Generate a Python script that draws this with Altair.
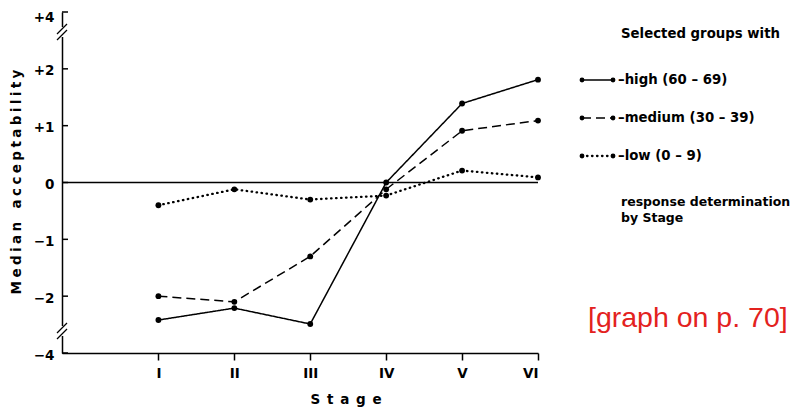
import altair as alt
import pandas as pd

# ---- data ----
stages = ["I", "II", "III", "IV", "V", "VI"]
high = [-2.42, -2.21, -2.49, 0.0, 1.39, 1.81]
medium = [-2.0, -2.1, -1.3, -0.12, 0.91, 1.09]
low = [-0.4, -0.12, -0.3, -0.23, 0.21, 0.09]
groups = ["high", "medium", "low"]
legend_labels = ["–high (60 – 69)", "–medium (30 – 39)", "–low (0 – 9)"]
y_ticks = [-3, -2, -1, 0, 1, 2, 3]
y_tick_labels = ["−4", "−2", "−1", "0", "+1", "+2", "+4"]
heading = "Selected groups with"
note_lines = ["response determination", "by Stage"]
x_title = "Stage"
y_title = "Median acceptability"
page_note = "[graph on p. 70]"

# ---- layout ----
W, H = 476, 341
X_MIN = -0.27
FONT = "DejaVu Sans"

series = {"high": high, "medium": medium, "low": low}
rows = []
for g in groups:
    for i, (s, v) in enumerate(zip(stages, series[g])):
        rows.append({"stage": i + 1, "label": s, "value": v, "group": g})
df = pd.DataFrame(rows)

x_scale = alt.Scale(domain=[X_MIN, 6], nice=False, zero=False)
y_scale = alt.Scale(domain=[-3, 3], nice=False, zero=False)

roman = "[" + ",".join("'%s'" % s for s in stages) + "]"
x_axis = alt.Axis(values=list(range(1, 7)), labelExpr=roman + "[datum.value - 1]",
                  grid=False, title=None, tickSize=7, tickColor="black", tickWidth=1.5,
                  domainColor="black", domainWidth=1.5, labelFont=FONT, labelFontSize=13.5,
                  labelFontWeight="bold", labelColor="black", labelPadding=6)

expr = "''"
for v, l in zip(y_ticks, y_tick_labels):
    expr = "datum.value == %d ? '%s' : (%s)" % (v, l, expr)
y_axis = alt.Axis(values=y_ticks, labelExpr=expr, grid=False, title=None, ticks=False,
                  domainColor="black", domainWidth=1.5, labelFont=FONT, labelFontSize=13.5,
                  labelFontWeight="bold", labelColor="black", labelPadding=8,
                  labelBaseline="alphabetic",
                  labelOffset={"condition": {"test": "datum.value == %d" % max(y_ticks),
                                             "value": 9}, "value": 6})

X = alt.X("stage:Q", scale=x_scale, axis=x_axis)
Y = alt.Y("value:Q", scale=y_scale, axis=y_axis)

styles = {
    "high": dict(strokeDash=[1, 0], strokeWidth=1.5),
    "medium": dict(strokeDash=[9, 5], strokeWidth=1.5),
    "low": dict(strokeDash=[0.5, 4.5], strokeWidth=2.3, strokeCap="round"),
}

layers = []

# zero line
zero = alt.Chart(pd.DataFrame({"value": [0]})).mark_rule(color="black", strokeWidth=1.3).encode(
    y=Y, x=alt.datum(X_MIN, scale=x_scale), x2=alt.datum(6))
layers.append(zero)

# inward ticks on y axis
tick_df = pd.DataFrame({"value": y_ticks})
yt = alt.Chart(tick_df).mark_rule(color="black", strokeWidth=1.5).encode(
    y=Y, x=alt.value(0), x2=alt.value(6))
layers.append(yt)

for g in groups:
    d = df[df.group == g]
    line = alt.Chart(d).mark_line(color="black", **styles[g]).encode(x=X, y=Y, order="stage:Q")
    pts = alt.Chart(d).mark_circle(color="black", opacity=1, size=34).encode(x=X, y=Y)
    layers += [line, pts]

# axis breaks
for (v1, v2) in [(2.70, 2.595), (-2.56, -2.665)]:
    gap = alt.Chart(pd.DataFrame({"value": [v1]})).mark_rule(
        color="white", strokeWidth=4, yOffset=-2, y2Offset=2).encode(
        x=alt.value(0), y=Y, y2=alt.datum(v2))
    layers.append(gap)
    for v in (v1, v2):
        sl = alt.Chart(pd.DataFrame({"value": [v]})).mark_rule(
            color="black", strokeWidth=1.3, yOffset=5, y2Offset=-5).encode(
            x=alt.value(-5), x2=alt.value(5), y=Y, y2=alt.datum(v))
        layers.append(sl)

# legend (custom, to the right)
LX0, LX1 = 520, 551
row_y = [68, 106, 144]
for g, lab, ry in zip(groups, legend_labels, row_y):
    ldf = pd.DataFrame({"px": [LX0, LX1], "py": [ry, ry], "t": [lab, lab]})
    ll = alt.Chart(ldf).mark_line(color="black", **styles[g]).encode(
        x=alt.X("px:Q", scale=None), y=alt.Y("py:Q", scale=None))
    lp = alt.Chart(ldf).mark_circle(color="black", opacity=1, size=24).encode(
        x=alt.X("px:Q", scale=None), y=alt.Y("py:Q", scale=None))
    lt = alt.Chart(ldf.iloc[[0]]).mark_text(
        align="left", baseline="middle", font=FONT, fontSize=13.3, fontWeight="bold",
        color="black", dx=LX1 - LX0 + 5).encode(
        x=alt.X("px:Q", scale=None), y=alt.Y("py:Q", scale=None), text="t:N")
    layers += [ll, lp, lt]


def txt(s, x, y, **kw):
    base = dict(align="left", baseline="middle", font=FONT, fontSize=13.3,
                fontWeight="bold", color="black")
    base.update(kw)
    return alt.Chart(pd.DataFrame({"t": [s]})).mark_text(**base).encode(
        x=alt.value(x), y=alt.value(y), text="t:N")


SP = "\u2005"
y_title_spaced = (SP * 4).join(SP.join(w) for w in y_title.split(" "))
x_title_spaced = "\u2002".join(x_title)

layers.append(txt(heading, 559, 22))
layers.append(txt(note_lines[0], 559, 190, fontSize=12.5))
layers.append(txt(note_lines[1], 559, 206, fontSize=12.5))
layers.append(txt(x_title_spaced, 284, 392, align="center", baseline="alphabetic", fontSize=13.5))
layers.append(txt(y_title_spaced, -41, 170, align="center", baseline="alphabetic",
                  angle=270, fontSize=13.5))
layers.append(txt(page_note, 526, 306, fontSize=28.5, fontWeight="normal",
                  font="Liberation Sans", color="#e3221e"))

chart = alt.layer(*layers).properties(
    width=W, height=H,
    autosize=alt.AutoSizeParams(type="none"),
    padding={"left": 54, "top": 4, "right": 254, "bottom": 55},
    background="white",
).configure_view(stroke=None)

chart.save("out.html", embed_options={"renderer": "svg", "actions": False})
